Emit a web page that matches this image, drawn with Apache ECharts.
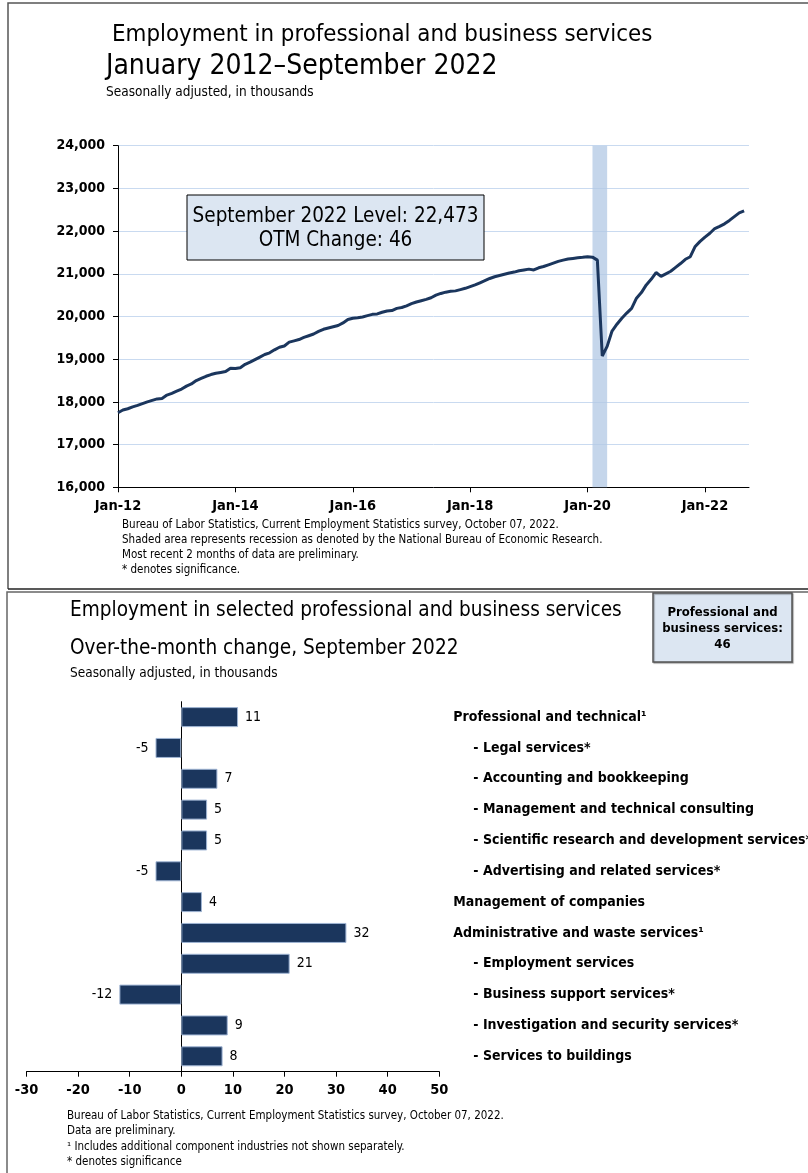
<!DOCTYPE html>
<html>
<head>
<meta charset="utf-8">
<script src="https://cdn.jsdelivr.net/npm/echarts@6/dist/echarts.min.js"></script>
<style>
html,body{margin:0;padding:0;background:#fff;}
#c{width:808px;height:1173px;}
</style>
</head>
<body>
<div id="c"></div>
<script>
// ---------- Top chart data (thousands, seasonally adjusted) ----------
const monthNames = ['Jan','Feb','Mar','Apr','May','Jun','Jul','Aug','Sep','Oct','Nov','Dec'];
const level2012 = [17747,17810,17840,17885,17920,17960,18000,18035,18070,18080,18160,18200];
const level2013 = [18250,18300,18370,18420,18500,18550,18600,18640,18670,18690,18710,18790];
const level2014 = [18780,18800,18880,18930,18990,19050,19110,19150,19220,19280,19310,19400];
const level2015 = [19430,19460,19510,19550,19590,19650,19700,19730,19760,19790,19850,19930];
const level2016 = [19960,19970,19990,20020,20050,20060,20100,20130,20140,20190,20210,20250];
const level2017 = [20300,20340,20370,20400,20440,20500,20540,20570,20590,20600,20630,20660];
const level2018 = [20700,20740,20790,20840,20890,20930,20960,20990,21020,21040,21070,21090];
const level2019 = [21110,21090,21140,21170,21210,21250,21290,21320,21345,21360,21375,21385];
const level2020 = [21400,21390,21320,19075,19300,19660,19820,19960,20080,20190,20430,20560];
const level2021 = [20740,20870,21030,20940,21000,21060,21150,21240,21340,21400,21640,21760];
const level2022 = [21860,21950,22060,22110,22170,22250,22340,22427,22473];
const xTickLabels = ['Jan-12','Jan-14','Jan-16','Jan-18','Jan-20','Jan-22'];
const yTickValues = [16000,17000,18000,19000,20000,21000,22000,23000,24000];
const recessionStart = 'Feb-20';
const recessionEnd = 'May-20';

// ---------- Bottom chart data ----------
const barCategories = [
  'Professional and technical\u00b9',
  '- Legal services*',
  '- Accounting and bookkeeping',
  '- Management and technical consulting',
  '- Scientific research and development services*',
  '- Advertising and related services*',
  'Management of companies',
  'Administrative and waste services\u00b9',
  '- Employment services',
  '- Business support services*',
  '- Investigation and security services*',
  '- Services to buildings'
];
const barValues = [11,-5,7,5,5,-5,4,32,21,-12,9,8];
const barTickValues = [-30,-20,-10,0,10,20,30,40,50];

// ---------- build ----------
const levels = [].concat(level2012,level2013,level2014,level2015,level2016,level2017,
  level2018,level2019,level2020,level2021,level2022);
const monthCats = [];
for (let y = 2012; y <= 2022; y++) {
  for (let m = 0; m < 12; m++) {
    const lab = monthNames[m] + '-' + String(y).slice(2);
    monthCats.push(lab);
    if (y === 2022 && m === 9) break;
  }
}
const FONT = '"DejaVu Sans Condensed", "Liberation Sans Narrow", "DejaVu Sans", sans-serif';
const NAVY = '#1b365d';
const showTick = (i) => xTickLabels.indexOf(monthCats[i]) >= 0;

const barData = barValues.map(v => ({
  value: v,
  label: { position: v < 0 ? 'left' : 'right' }
}));

const chart = echarts.init(document.getElementById('c'), null, {renderer: 'canvas'});
chart.setOption({
  animation: false,
  backgroundColor: '#fff',
  textStyle: { fontFamily: FONT },
  grid: [
    { left: 118, right: 59, top: 145.7, bottom: 685.7, containLabel: false, outerBoundsMode: 'none' },
    { left: 26.5, right: 368.7, top: 701.7, bottom: 101.3, containLabel: false, outerBoundsMode: 'none' }
  ],
  xAxis: [
    {
      type: 'category', gridIndex: 0, data: monthCats, boundaryGap: false,
      axisLine: { lineStyle: { color: '#000', width: 1 } },
      axisTick: { show: true, interval: (i) => showTick(i), length: 5, lineStyle: { color: '#000' } },
      axisLabel: { interval: (i) => showTick(i), color: '#000', fontWeight: 'bold', fontSize: 14.5, margin: 11, fontFamily: FONT },
      splitLine: { show: false }
    },
    {
      type: 'value', gridIndex: 1, min: -30, max: 50, interval: 10,
      axisLine: { show: true, onZero: false, lineStyle: { color: '#000' } },
      axisTick: { show: true, length: 5, lineStyle: { color: '#000' } },
      axisLabel: { color: '#000', fontWeight: 'bold', fontSize: 14.5, margin: 11, fontFamily: FONT,
        formatter: v => barTickValues.indexOf(v) >= 0 ? String(v) : '' },
      splitLine: { show: false }
    }
  ],
  yAxis: [
    {
      type: 'value', gridIndex: 0, min: 16000, max: 24000, interval: 1000,
      axisLine: { show: true, lineStyle: { color: '#000' } },
      axisTick: { show: true, inside: false, length: 5, lineStyle: { color: '#000' } },
      axisLabel: { color: '#000', fontWeight: 'bold', fontSize: 14, margin: 13, fontFamily: FONT,
        formatter: v => yTickValues.indexOf(v) >= 0 ? v.toLocaleString('en-US') : '' },
      splitLine: { show: true, lineStyle: { color: '#c9daf0', width: 1 } }
    },
    {
      type: 'category', gridIndex: 1, data: barCategories, inverse: true,
      axisLine: { show: true, onZero: true, lineStyle: { color: '#000' } },
      axisTick: { show: false }, axisLabel: { show: false }, splitLine: { show: false }
    },
    {
      type: 'category', gridIndex: 1, data: barCategories, inverse: true, position: 'right',
      axisLine: { show: false }, axisTick: { show: false }, splitLine: { show: false },
      axisLabel: {
        show: true, margin: 14, align: 'left', color: '#000', fontWeight: 'bold', fontSize: 14, fontFamily: FONT,
        formatter: v => v.indexOf('- ') === 0 ? '{sub|' + v + '}' : '{top|' + v + '}',
        rich: {
          top: { fontWeight: 'bold', fontSize: 14, color: '#000', fontFamily: FONT },
          sub: { fontWeight: 'bold', fontSize: 14, color: '#000', fontFamily: FONT, padding: [0, 0, 0, 20] }
        }
      }
    }
  ],
  series: [
    {
      type: 'line', xAxisIndex: 0, yAxisIndex: 0, data: levels, showSymbol: false,
      lineStyle: { color: NAVY, width: 3 }, z: 5,
      markArea: {
        silent: true,
        itemStyle: { color: 'rgba(178,200,228,0.75)' },
        data: [[{ xAxis: recessionStart }, { xAxis: recessionEnd }]]
      }
    },
    {
      type: 'bar', xAxisIndex: 1, yAxisIndex: 2, data: barData, barWidth: 20,
      itemStyle: { color: NAVY, borderColor: '#9fb4d3', borderWidth: 1 },
      label: { show: true, color: '#000', fontSize: 14, distance: 7, fontFamily: FONT }
    }
  ],
  graphic: [
    // panel borders
    { type: 'polyline', shape: { points: [[8, 589], [8, 3], [808, 3]] }, style: { stroke: '#555', lineWidth: 1.5, fill: null } },
    { type: 'line', shape: { x1: 8, y1: 589, x2: 808, y2: 589 }, style: { stroke: '#222', lineWidth: 1.5 } },
    { type: 'polyline', shape: { points: [[7, 1173], [7, 592], [808, 592]] }, style: { stroke: '#666', lineWidth: 1.5, fill: null } },
    // top titles
    { type: 'text', left: 112, top: 23, style: { text: 'Employment in professional and business services', font: '23.8px ' + FONT, fill: '#000' } },
    { type: 'text', left: 106, top: 53, style: { text: 'January 2012\u2013September 2022', font: '28px ' + FONT, fill: '#000' } },
    { type: 'text', left: 106, top: 85, style: { text: 'Seasonally adjusted, in thousands', font: '13.5px ' + FONT, fill: '#000' } },
    // annotation box
    { type: 'rect', shape: { x: 187, y: 195, width: 297, height: 65 }, style: { fill: '#dce6f2', stroke: '#000', lineWidth: 1 }, z: 10 },
    { type: 'text', x: 335.5, y: 205, z: 11, style: { text: 'September 2022 Level: 22,473\nOTM Change: 46', font: '20.5px ' + FONT, fill: '#000', align: 'center', lineHeight: 23.5 } },
    // top footnotes
    { type: 'text', left: 122, top: 517, style: { text: 'Bureau of Labor Statistics, Current Employment Statistics survey, October 07, 2022.\nShaded area represents recession as denoted by the National Bureau of Economic Research.\nMost recent 2 months of data are preliminary.\n* denotes significance.', font: '11.5px ' + FONT, fill: '#000', lineHeight: 15.2 } },
    // bottom titles
    { type: 'text', left: 70, top: 600, style: { text: 'Employment in selected professional and business services', font: '20.6px ' + FONT, fill: '#000' } },
    { type: 'text', left: 70, top: 638, style: { text: 'Over-the-month change, September 2022', font: '20.6px ' + FONT, fill: '#000' } },
    { type: 'text', left: 70, top: 666, style: { text: 'Seasonally adjusted, in thousands', font: '13.5px ' + FONT, fill: '#000' } },
    // summary box
    { type: 'rect', shape: { x: 653, y: 593, width: 139, height: 69 }, style: { fill: '#dce6f2', stroke: '#555', lineWidth: 1.5, shadowColor: 'rgba(0,0,0,0.3)', shadowOffsetX: 1, shadowOffsetY: 1, shadowBlur: 1 } },
    { type: 'text', x: 722.5, y: 605, style: { text: 'Professional and\nbusiness services:\n46', font: 'bold 13px ' + FONT, fill: '#000', align: 'center', lineHeight: 16 } },
    // bottom footnotes
    { type: 'text', left: 67, top: 1108, style: { text: 'Bureau of Labor Statistics, Current Employment Statistics survey, October 07, 2022.\nData are preliminary.\n\u00b9 Includes additional component industries not shown separately.\n* denotes significance', font: '11.5px ' + FONT, fill: '#000', lineHeight: 15.5 } }
  ]
});
</script>
</body>
</html>
